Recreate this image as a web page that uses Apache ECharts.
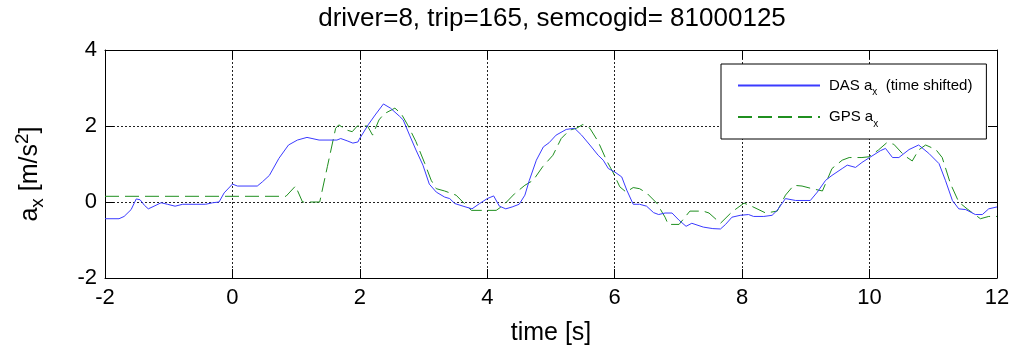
<!DOCTYPE html>
<html>
<head>
<meta charset="utf-8">
<script src="https://cdn.jsdelivr.net/npm/echarts@6/dist/echarts.min.js"></script>
<style>
html,body{margin:0;padding:0;background:#fff;}
#c{width:1017px;height:357px;}
</style>
</head>
<body>
<div id="c"></div>
<script>
const titleText = 'driver=8, trip=165, semcogid= 81000125';
const xTicks = [-2, 0, 2, 4, 6, 8, 10, 12];
const yTicks = [-2, 0, 2, 4];

// DAS a_x (time shifted): [time s, a_x m/s^2]
const dasPoints = [
  [-2,-0.44],[-1.78,-0.44],[-1.70,-0.38],[-1.59,-0.20],[-1.51,0.08],[-1.45,0.06],[-1.38,-0.09],[-1.32,-0.18],
  [-1.23,-0.11],[-1.12,-0.02],[-1.02,-0.06],[-0.90,-0.11],[-0.78,-0.06],[-0.42,-0.06],[-0.31,-0.02],[-0.21,0.0],
  [-0.13,0.24],[0,0.47],[0.08,0.42],[0.39,0.42],[0.47,0.53],[0.58,0.70],[0.73,1.15],[0.88,1.50],[1.02,1.63],
  [1.17,1.70],[1.36,1.63],[1.64,1.63],[1.70,1.67],[1.80,1.61],[1.89,1.55],[1.97,1.58],[1.99,1.65],[2.13,2.03],
  [2.24,2.29],[2.37,2.58],[2.48,2.47],[2.62,2.26],[2.68,2.16],[2.78,1.76],[2.88,1.37],[2.99,0.97],[3.09,0.47],
  [3.20,0.26],[3.33,0.13],[3.41,0.09],[3.49,-0.04],[3.62,-0.11],[3.76,-0.18],[3.88,-0.04],[4.0,0.09],[4.10,0.16],
  [4.19,-0.11],[4.29,-0.18],[4.39,-0.13],[4.50,-0.06],[4.59,0.18],[4.66,0.57],[4.77,1.10],[4.88,1.45],[4.97,1.56],
  [5.08,1.76],[5.24,1.91],[5.37,1.94],[5.48,1.76],[5.61,1.50],[5.74,1.23],[5.82,1.10],[5.90,0.88],[6.0,0.79],
  [6.11,0.66],[6.19,0.31],[6.29,-0.06],[6.39,-0.06],[6.50,-0.11],[6.61,-0.28],[6.69,-0.33],[6.79,-0.29],[6.90,-0.29],
  [7.01,-0.48],[7.12,-0.64],[7.21,-0.56],[7.39,-0.66],[7.54,-0.70],[7.66,-0.71],[7.74,-0.59],[7.84,-0.40],[7.97,-0.35],
  [8.10,-0.33],[8.18,-0.38],[8.34,-0.38],[8.47,-0.35],[8.55,-0.22],[8.68,0.09],[8.84,0.04],[9.07,0.04],[9.18,0.26],
  [9.31,0.57],[9.41,0.70],[9.57,0.88],[9.65,0.97],[9.78,0.91],[9.88,1.04],[10.0,1.17],[10.17,1.35],[10.25,1.41],
  [10.36,1.17],[10.46,1.17],[10.62,1.38],[10.77,1.50],[10.93,1.28],[11.09,1.01],[11.19,0.57],[11.30,0.04],
  [11.40,-0.18],[11.51,-0.20],[11.66,-0.33],[11.77,-0.33],[11.87,-0.18],[12.0,-0.13]
];

// GPS a_x: [time s, a_x m/s^2]
const gpsPoints = [
  [-2,0.15],[0.84,0.15],[0.99,0.42],[1.10,0.0],[1.37,0.0],[1.49,0.93],[1.62,1.94],[1.67,2.03],[1.80,1.89],
  [1.88,1.85],[1.96,2.0],[2.12,2.0],[2.20,1.76],[2.30,2.16],[2.38,2.32],[2.55,2.47],[2.65,2.32],[2.75,2.03],
  [2.88,1.59],[3.02,1.01],[3.12,0.57],[3.20,0.35],[3.33,0.29],[3.51,0.18],[3.64,-0.04],[3.75,-0.22],[4.14,-0.22],
  [4.25,-0.09],[4.43,0.22],[4.59,0.44],[4.72,0.57],[4.87,0.93],[5.03,1.23],[5.16,1.67],[5.29,1.89],[5.40,1.94],
  [5.50,2.04],[5.61,1.94],[5.74,1.59],[5.87,1.10],[5.97,0.79],[6.08,0.40],[6.18,0.26],[6.29,0.38],[6.39,0.35],
  [6.50,0.24],[6.66,-0.03],[6.79,-0.40],[6.84,-0.59],[7.01,-0.59],[7.18,-0.24],[7.39,-0.24],[7.48,-0.29],
  [7.66,-0.56],[7.84,-0.26],[8.03,-0.03],[8.16,-0.12],[8.37,-0.29],[8.55,-0.24],[8.68,0.18],[8.81,0.44],[8.94,0.42],
  [9.10,0.35],[9.26,0.29],[9.41,0.88],[9.57,1.10],[9.68,1.17],[9.88,1.17],[9.99,1.19],[10.14,1.37],[10.27,1.56],
  [10.38,1.52],[10.54,1.23],[10.67,1.08],[10.77,1.37],[10.88,1.50],[11.04,1.38],[11.14,1.17],[11.27,0.48],
  [11.40,0.0],[11.53,-0.18],[11.74,-0.44],[11.87,-0.38],[12.0,-0.38]
];

const FONT = '"Liberation Sans", Arial, Helvetica, sans-serif';
const chart = echarts.init(document.getElementById('c'), null, {renderer: 'canvas'});

const xMin = xTicks[0], xMax = xTicks[xTicks.length - 1];
const yMin = yTicks[0], yMax = yTicks[yTicks.length - 1];
const frameLine = {show: true, onZero: false, lineStyle: {color: '#000', width: 1}};
const innerTick = {show: true, inside: true, length: 9, lineStyle: {color: '#000', width: 1}};
const gridSplit = {show: true, lineStyle: {color: '#222', width: 1, type: [2, 2]}};

chart.setOption({
  animation: false,
  backgroundColor: '#fff',
  title: {
    text: titleText,
    left: 547,
    textAlign: 'center',
    top: 1,
    textStyle: {fontFamily: FONT, fontSize: 26, fontWeight: 'normal', color: '#000'}
  },
  grid: {left: 105, right: 20, top: 50, bottom: 79},
  xAxis: [
    {
      type: 'value', position: 'bottom', min: xMin, max: xMax, interval: 2,
      axisLine: frameLine, axisTick: innerTick, splitLine: gridSplit,
      axisLabel: {fontFamily: FONT, fontSize: 22, color: '#000', margin: 9},
      name: 'time [s]', nameLocation: 'middle', nameGap: 43,
      nameTextStyle: {fontFamily: FONT, fontSize: 25, color: '#000'}
    },
    {
      type: 'value', position: 'top', min: xMin, max: xMax, interval: 2,
      axisLine: frameLine, axisTick: innerTick, splitLine: {show: false}, axisLabel: {show: false}
    }
  ],
  yAxis: [
    {
      type: 'value', position: 'left', min: yMin, max: yMax, interval: 2,
      axisLine: frameLine, axisTick: innerTick, splitLine: gridSplit,
      axisLabel: {fontFamily: FONT, fontSize: 22, color: '#000', margin: 8},
      name: '{m|a}{s|x}{m| [m/s}{p|2}{m|]}', nameLocation: 'middle', nameGap: 58, nameRotate: 90,
      nameTextStyle: {
        padding: [0, 20, 0, 0],
        rich: {
          m: {fontFamily: FONT, fontSize: 25, color: '#000', lineHeight: 34, verticalAlign: 'middle'},
          s: {fontFamily: FONT, fontSize: 19, color: '#000', lineHeight: 34, verticalAlign: 'bottom'},
          p: {fontFamily: FONT, fontSize: 19, color: '#000', lineHeight: 34, verticalAlign: 'top'}
        }
      }
    },
    {
      type: 'value', position: 'right', min: yMin, max: yMax, interval: 2,
      axisLine: frameLine, axisTick: innerTick, splitLine: {show: false}, axisLabel: {show: false}
    }
  ],
  legend: {
    orient: 'vertical',
    left: 721, top: 64,
    padding: [14, 14, 10, 16],
    itemWidth: 82, itemHeight: 14, itemGap: 12,
    borderColor: '#000', borderWidth: 1, backgroundColor: '#fff',
    selectedMode: false,
    itemStyle: {color: 'transparent', borderWidth: 0, opacity: 0},
    data: ['DAS', 'GPS'],
    formatter: function (name) {
      return name === 'DAS' ? '{t|DAS a}{s|x}{t|  (time shifted)}' : '{t|GPS a}{s|x}';
    },
    textStyle: {
      padding: [0, 0, 0, 4],
      rich: {
        t: {fontFamily: FONT, fontSize: 15, color: '#000', lineHeight: 24, verticalAlign: 'middle'},
        s: {fontFamily: FONT, fontSize: 10, color: '#000', lineHeight: 24, verticalAlign: 'bottom'}
      }
    }
  },
  series: [
    {
      name: 'DAS', type: 'line', data: dasPoints, symbol: 'none', xAxisIndex: 0, yAxisIndex: 0,
      lineStyle: {color: '#3b3bff', width: 1}, itemStyle: {color: '#3b3bff'}, z: 3
    },
    {
      name: 'GPS', type: 'line', data: gpsPoints, symbol: 'none', xAxisIndex: 0, yAxisIndex: 0,
      lineStyle: {color: '#1f8f1f', width: 1, type: [14, 6]}, itemStyle: {color: '#1f8f1f'}, z: 2
    }
  ]
});
</script>
</body>
</html>
